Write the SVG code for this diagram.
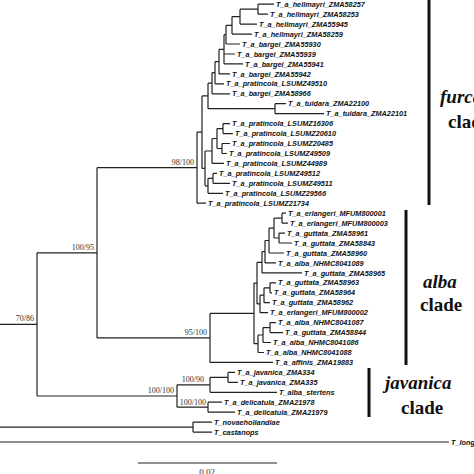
<svg xmlns="http://www.w3.org/2000/svg" width="474" height="474" viewBox="0 0 474 474">
<style>
.br{fill:none;stroke:#222;stroke-width:1.2}
.lf{font-family:"Liberation Sans",Arial,sans-serif;font-size:7.3px;font-style:italic;font-weight:bold;fill:#111}
.sp{font-family:"Liberation Serif","Times New Roman",serif;font-size:8px;fill:#333;text-anchor:end}
.bar{stroke:#111;stroke-width:3}
.cn{font-family:"Liberation Serif","Times New Roman",serif;font-weight:bold;font-style:italic;font-size:19px;fill:#111}
.cl{font-family:"Liberation Serif","Times New Roman",serif;font-weight:bold;font-size:19px;fill:#111}
</style>
<rect width="474" height="474" fill="#fff"/>
<g id="connectors" class="br">
<path d="M258 4.2H274M258 14.2H268M240 24.1H257M232 34.1H252M226 44H240M224 54H235M224 63.9H243M219 73.9H230M215 83.8H224M212 93.8H230M275 103.7H286M275 113.7H324M223 123.6H230M223 133.6H233M222 143.5H230M222 153.5H227M212 163.4H224M213 173.4H217M213 183.3H230M208 193.3H223M197 203.2H206"/>
<path d="M282 213.2H286M282 223.1H288M279 233.1H285M279 243H292M269 253H284M265 262.9H276M262 272.9H302M270 282.8H276M270 292.8H272M264 302.7H270M260 312.7H268M270 322.6H276M270 332.6H283M263 342.5H271M258 352.5H264M210 362.4H273"/>
<path d="M228 372.4H235M228 382.3H238M210 392.3H277M208 402.2H222M208 412.2H235M193 422.1H212M193 432.1H212M0 442H449"/>
<path d="M258 4.2V14.2M240 9.2H258M240 9.2V24.1M232 16.6H240M232 16.6V34.1M226 25.3H232M226 25.3V44M224 34.7H226M224 34.7V63.9M219 49.3H224M219 49.3V73.9M215 61.6H219M215 61.6V83.8M212 72.7H215M212 72.7V93.8M208 83.2H212M275 103.7V113.7M208 108.7H275M208 83.2V108.7M202 95.9H208"/>
<path d="M223 123.6V133.6M217 128.6H223M222 143.5V153.5M217 148.5H222M217 128.6V148.5M212 138.5H217M212 138.5V163.4M205 151H212M213 173.4V183.3M208 178.3H213M208 178.3V193.3M205 185.8H208M205 151V185.8M202 168.4H205M202 95.9V168.4M197 132.1H202M197 132.1V203.2M97 167.7H197"/>
<path d="M282 213.2V223.1M274 218.1H282M279 233.1V243M274 238H279M274 218.1V238M269 228.1H274M269 228.1V253M265 240.5H269M265 240.5V262.9M262 251.7H265M262 251.7V272.9M257 262.3H262M270 282.8V292.8M264 287.8H270M264 287.8V302.7M260 295.2H264M260 295.2V312.7M257 303.9H260M257 262.3V303.9M254 283.1H257M270 322.6V332.6M263 327.6H270M263 327.6V342.5M258 335H263M258 335V352.5M254 343.7H258M254 283.1V343.7M210 313.4H254M210 313.4V362.4M97 337.9H210M97 167.7V337.9M37 252.8H97"/>
<path d="M228 372.4V382.3M210 377.3H228M210 377.3V392.3M177 384.8H210M208 402.2V412.2M177 407.2H208M177 384.8V407.2M37 396H177M37 252.8V396M0 324.4H37M193 422.1V432.1M0 427.1H193"/>
<path d="M138 463H277" stroke-width="1"/>
</g>
<g id="leaves" class="lf">
<g id="n0"><text x="276" y="6.8">T_a_hellmayri_ZMA58257</text></g>
<g id="n1"><text x="270" y="16.8">T_a_hellmayri_ZMA58253</text></g>
<g id="n2"><text x="259" y="26.7">T_a_hellmayri_ZMA55945</text></g>
<g id="n3"><text x="254" y="36.7">T_a_hellmayri_ZMA58259</text></g>
<g id="n4"><text x="242" y="46.6">T_a_bargei_ZMA55930</text></g>
<g id="n5"><text x="237" y="56.6">T_a_bargei_ZMA55939</text></g>
<g id="n6"><text x="245" y="66.5">T_a_bargei_ZMA55941</text></g>
<g id="n7"><text x="232" y="76.5">T_a_bargei_ZMA55942</text></g>
<g id="n8"><text x="226" y="86.4">T_a_pratincola_LSUMZ49510</text></g>
<g id="n9"><text x="232" y="96.4">T_a_bargei_ZMA58966</text></g>
<g id="n10"><text x="288" y="106.3">T_a_tuidara_ZMA22100</text></g>
<g id="n11"><text x="326" y="116.3">T_a_tuidara_ZMA22101</text></g>
<g id="n12"><text x="232" y="126.2">T_a_pratincola_LSUMZ16306</text></g>
<g id="n13"><text x="235" y="136.2">T_a_pratincola_LSUMZ20610</text></g>
<g id="n14"><text x="232" y="146.1">T_a_pratincola_LSUMZ20485</text></g>
<g id="n15"><text x="229" y="156.1">T_a_pratincola_LSUMZ49509</text></g>
<g id="n16"><text x="226" y="166">T_a_pratincola_LSUMZ44989</text></g>
<g id="n17"><text x="219" y="176">T_a_pratincola_LSUMZ49512</text></g>
<g id="n18"><text x="232" y="185.9">T_a_pratincola_LSUMZ49511</text></g>
<g id="n19"><text x="225" y="195.9">T_a_pratincola_LSUMZ29566</text></g>
<g id="n20"><text x="208" y="205.8">T_a_pratincola_LSUMZ21734</text></g>
<g id="n21"><text x="288" y="215.8">T_a_erlangeri_MFUM800001</text></g>
<g id="n22"><text x="290" y="225.7">T_a_erlangeri_MFUM800003</text></g>
<g id="n23"><text x="287" y="235.7">T_a_guttata_ZMA58961</text></g>
<g id="n24"><text x="294" y="245.6">T_a_guttata_ZMA58843</text></g>
<g id="n25"><text x="286" y="255.6">T_a_guttata_ZMA58960</text></g>
<g id="n26"><text x="278" y="265.5">T_a_alba_NHMC8041089</text></g>
<g id="n27"><text x="304" y="275.5">T_a_guttata_ZMA58965</text></g>
<g id="n28"><text x="278" y="285.4">T_a_guttata_ZMA58963</text></g>
<g id="n29"><text x="274" y="295.4">T_a_guttata_ZMA58964</text></g>
<g id="n30"><text x="272" y="305.3">T_a_guttata_ZMA58962</text></g>
<g id="n31"><text x="270" y="315.3">T_a_erlangeri_MFUM800002</text></g>
<g id="n32"><text x="278" y="325.2">T_a_alba_NHMC8041087</text></g>
<g id="n33"><text x="285" y="335.2">T_a_guttata_ZMA58844</text></g>
<g id="n34"><text x="273" y="345.1">T_a_alba_NHMC8041086</text></g>
<g id="n35"><text x="266" y="355.1">T_a_alba_NHMC8041088</text></g>
<g id="n36"><text x="275" y="365">T_a_affinis_ZMA19883</text></g>
<g id="n37"><text x="237" y="375">T_a_javanica_ZMA334</text></g>
<g id="n38"><text x="240" y="384.9">T_a_javanica_ZMA335</text></g>
<g id="n39"><text x="279" y="394.9">T_alba_stertens</text></g>
<g id="n40"><text x="224" y="404.8">T_a_delicatula_ZMA21978</text></g>
<g id="n41"><text x="237" y="414.8">T_a_delicatula_ZMA21979</text></g>
<g id="n42"><text x="214" y="424.7">T_novaehollandiae</text></g>
<g id="n43"><text x="214" y="434.7">T_castanops</text></g>
<g id="n44"><text x="451" y="444.6">T_longimembris</text></g>
</g>
<g id="supports" class="sp">
<text x="34" y="321">70/86</text>
<text x="94" y="249.5">100/95</text>
<text x="194" y="164.5">98/100</text>
<text x="207" y="334.5">95/100</text>
<text x="204" y="381.5">100/90</text>
<text x="174" y="393">100/100</text>
<text x="206" y="404.5">100/100</text>
</g>
<g id="clade-furcata">
<line class="bar" x1="429" y1="0" x2="429" y2="205"/>
<text class="cn" x="440" y="103">furcata</text>
<text class="cl" x="448" y="128">clade</text>
</g>
<g id="clade-alba">
<line class="bar" x1="406" y1="210" x2="406" y2="365"/>
<text class="cn" x="423" y="288">alba</text>
<text class="cl" x="420" y="311">clade</text>
</g>
<g id="clade-javanica">
<line class="bar" x1="369" y1="368" x2="369" y2="417"/>
<text class="cn" x="385" y="389">javanica</text>
<text class="cl" x="401" y="414" font-size="16.5">clade</text>
</g>
<g id="scale">
<text x="207" y="475" font-family="Liberation Serif, Times New Roman, serif" font-size="9" fill="#333" text-anchor="middle">0.02</text>
</g>
</svg>
